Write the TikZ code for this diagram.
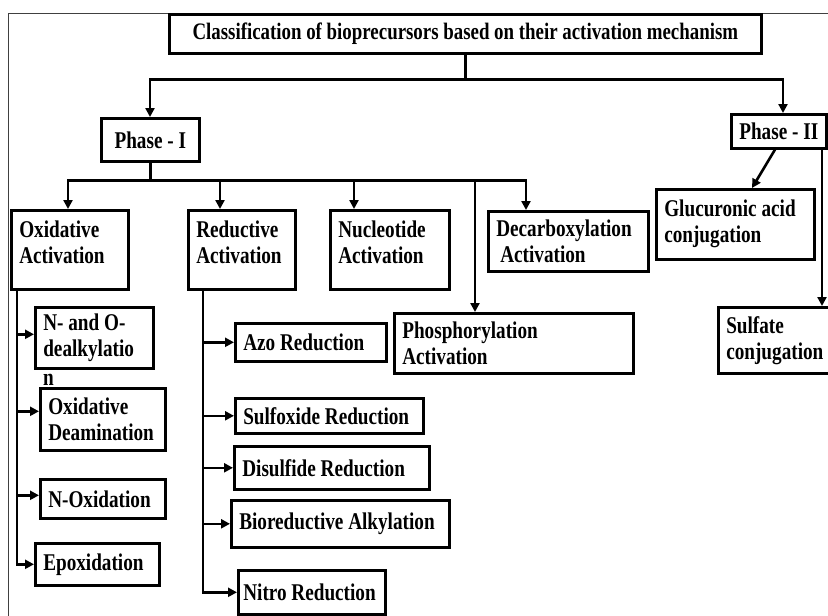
\documentclass[tikz,border=0pt]{standalone}
\usepackage{fontspec}
\setmainfont{Liberation Serif}[FakeStretch=0.8]
\usetikzlibrary{arrows.meta}
\newcommand{\boxfont}[1]{\bfseries\fontsize{#1}{26}\selectfont}
\tikzset{
  treebox/.style = {draw=black, line width=2.6pt, anchor=north west, align=flush left,
    inner xsep=8pt, inner ysep=0pt, font=\boxfont{24}},
  bx/.style 2 args = {treebox, text width=#1, minimum height=#2},
  tall/.style = {text height=27pt, text depth=52pt},
  conn/.style = {line width=2.6pt},
  frame/.style = {line width=0.9pt, draw=black!75}}

\begin{document}
\begin{tikzpicture}[x=1pt, y=-1pt, >={Triangle[length=9pt,width=9pt]}]
\useasboundingbox (0,0) rectangle (828,616);
% outer frame
\draw[frame] (8,616) |- (828,13);

\node[bx={576pt}{39pt}, align=flush center, font=\boxfont{23.6}]
  (title) at (168,13) {Classification of bioprecursors based on their activation mechanism};
\node[treebox, minimum width=98pt, minimum height=43pt] (ph1) at (100,117) {Phase - I};
\node[treebox, minimum width=95pt, minimum height=34pt] (ph2) at (730,113) {Phase - II};

% phase I
\node[bx={101pt}{79pt}, tall] (ox) at (10,209) {Oxidative\\Activation};
\node[bx={91pt}{79pt}, tall] (red) at (187,209) {Reductive\\Activation};
\node[bx={103pt}{79pt}, tall] (nuc) at (329,209) {Nucleotide\\Activation};
\node[bx={144pt}{60pt}] (dec) at (487,210) {Decarboxylation\\\hspace*{4pt}Activation};
\node[bx={223pt}{60pt}] (phos) at (393,312) {Phosphorylation\\Activation};

% phase II
\node[bx={142pt}{70pt}] (glu) at (655,188) {Glucuronic acid\\conjugation};
\node[bx={114pt}{66pt}] (sul) at (717,306) {Sulfate\\conjugation};

% oxidative
\node[bx={102pt}{61pt}] (dealk) at (34,306) {N- and O-\\dealkylatio};
\node[font=\boxfont{24}, inner sep=0pt, anchor=base west]
  (dealkn) at ([xshift=9pt,yshift=-16pt]dealk.south west) {n};
\node[bx={109pt}{62pt}] (deam) at (39,387) {Oxidative\\Deamination};
\node[bx={109pt}{39pt}] (nox) at (39,478) {N-Oxidation};
\node[bx={108pt}{42pt}] (epox) at (34,542) {Epoxidation};

% reductive
\node[bx={135pt}{38pt}] (azo) at (234,322) {Azo Reduction};
\node[bx={172pt}{35pt}] (sulfo) at (234,397) {Sulfoxide Reduction};
\node[bx={179pt}{43pt}] (disul) at (233,445) {Disulfide Reduction};
\node[bx={202pt}{47pt}] (biored) at (230,499) {Bioreductive Alkylation};
\node[bx={137pt}{44pt}, inner xsep=5pt] (nitro) at (237,569) {Nitro Reduction};

\draw[conn,->] (title.south) -- ++(0,25) -| ([xshift=50pt]ph1.north west);
\draw[conn,->] (title.south) -- ++(0,25) -| ([xshift=53pt]ph2.north west);

\foreach \n/\s in {ox/58,red/33,nuc/25,dec/39,phos/82}
  \draw[conn,->] (ph1.south) -- ++(0,18) -| ([xshift=\s pt]\n.north west);

\draw[conn,->] ([xshift=45pt]ph2.south west) -- ([xshift=97pt]glu.north west);
\draw[conn,->] ([xshift=92pt]ph2.south west) -- ([xshift=105pt]sul.north west);

\foreach \n/\s in {dealk/3.5,deam/8,nox/3.5,epox/0}
  \draw[conn,->] ([xshift=7pt]ox.south west) |- ([yshift=\s pt]\n.west);
\foreach \n in {azo,sulfo,disul,biored,nitro}
  \draw[conn,->] ([xshift=16pt]red.south west) |- (\n.west);
\end{tikzpicture}
\end{document}
